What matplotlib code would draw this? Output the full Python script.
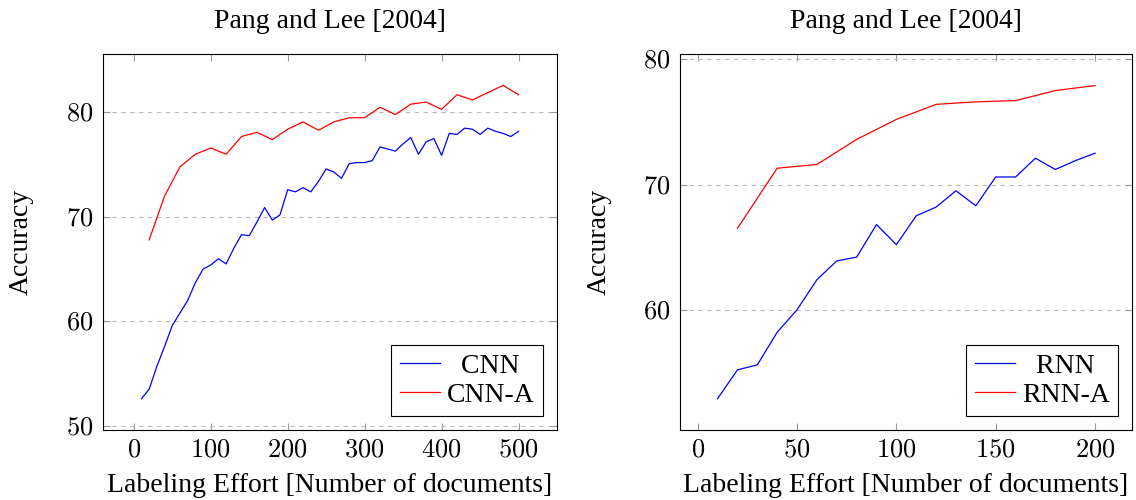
import matplotlib
matplotlib.use('Agg')
import matplotlib.pyplot as plt
from matplotlib.ticker import FuncFormatter

plt.rcParams['font.family'] = ['Liberation Serif', 'DejaVu Serif']
plt.rcParams['mathtext.fontset'] = 'cm'

# left panel: CNN vs CNN-A
cnnX = list(range(10, 501, 10))
cnnY = [52.6, 53.5, 55.7, 57.6, 59.6, 60.8, 62.0, 63.7, 65.0, 65.4,
        66.0, 65.5, 67.0, 68.3, 68.2, 69.5, 70.9, 69.7, 70.2, 72.6,
        72.4, 72.8, 72.4, 73.4, 74.6, 74.3, 73.7, 75.1, 75.2, 75.2,
        75.4, 76.7, 76.5, 76.3, 77.0, 77.6, 76.0, 77.2, 77.5, 75.9,
        78.0, 77.9, 78.5, 78.4, 77.9, 78.5, 78.2, 78.0, 77.7, 78.2]
cnnAX = list(range(20, 501, 20))
cnnAY = [67.8, 72.0, 74.8, 76.0, 76.6, 76.0, 77.7, 78.1, 77.4, 78.4,
         79.1, 78.3, 79.1, 79.5, 79.5, 80.5, 79.8, 80.8, 81.0, 80.3,
         81.7, 81.2, 81.9, 82.6, 81.7]

# right panel: RNN vs RNN-A
rnnX = list(range(10, 201, 10))
rnnY = [52.9, 55.2, 55.6, 58.2, 60.0, 62.4, 63.9, 64.2, 66.8, 65.2,
        67.5, 68.2, 69.5, 68.3, 70.6, 70.6, 72.1, 71.2, 71.9, 72.5]
rnnAX = list(range(20, 201, 20))
rnnAY = [66.5, 71.3, 71.6, 73.6, 75.2, 76.4, 76.6, 76.7, 77.5, 77.9]

FS = 20
fig = plt.figure(figsize=(11.36, 5.0), dpi=100)
axL = fig.add_axes([103 / 1136, 70 / 500, 454 / 1136, 376 / 500])
axR = fig.add_axes([680 / 1136, 70 / 500, 452 / 1136, 376 / 500])

mathFmt = FuncFormatter(lambda v, p: '$%d$' % v)


def styleAxis(ax, xticks, yticks, xlim, ylim, ylabX):
    ax.set_xlim(*xlim)
    ax.set_ylim(*ylim)
    ax.set_xticks(xticks)
    ax.set_yticks(yticks)
    ax.xaxis.set_major_formatter(mathFmt)
    ax.yaxis.set_major_formatter(mathFmt)
    ax.tick_params(direction='in', top=True, right=True, length=5,
                   width=0.8, color='#999999', labelsize=19, pad=7)
    ax.grid(axis='y', color='#bbbbbb', linestyle=(0, (4, 4)), linewidth=0.8)
    ax.set_axisbelow(True)
    for s in ax.spines.values():
        s.set_linewidth(0.8)
    ax.set_title('Pang and Lee [2004]', fontsize=FS, pad=19)
    ax.set_xlabel('Labeling Effort [Number of documents]', fontsize=FS)
    ax.set_ylabel('Accuracy', fontsize=FS)
    ax.xaxis.set_label_coords(0.5, -0.115)
    ax.yaxis.set_label_coords(ylabX, 0.5)


axL.plot(cnnX, cnnY, color='#0000ff', lw=0.9, label='  CNN')
axL.plot(cnnAX, cnnAY, color='#ff0000', lw=0.9, label='CNN-A')
styleAxis(axL, range(0, 501, 100), range(50, 81, 10), (-40, 550), (49.6, 85.6), -0.152)

axR.plot(rnnX, rnnY, color='#0000ff', lw=0.9, label='  RNN')
axR.plot(rnnAX, rnnAY, color='#ff0000', lw=0.9, label='RNN-A')
styleAxis(axR, range(0, 201, 50), range(60, 81, 10), (-8.9, 218.6), (50.4, 80.42), -0.150)

for ax in (axL, axR):
    leg = ax.legend(loc='lower right', fontsize=FS, fancybox=False,
                    edgecolor='black', framealpha=1, handlelength=1.45,
                    handletextpad=0.25, labelspacing=0.12, borderpad=0.3,
                    borderaxespad=0.5)
    leg.get_frame().set_linewidth(0.8)

fig.savefig('out.png', dpi=100)
